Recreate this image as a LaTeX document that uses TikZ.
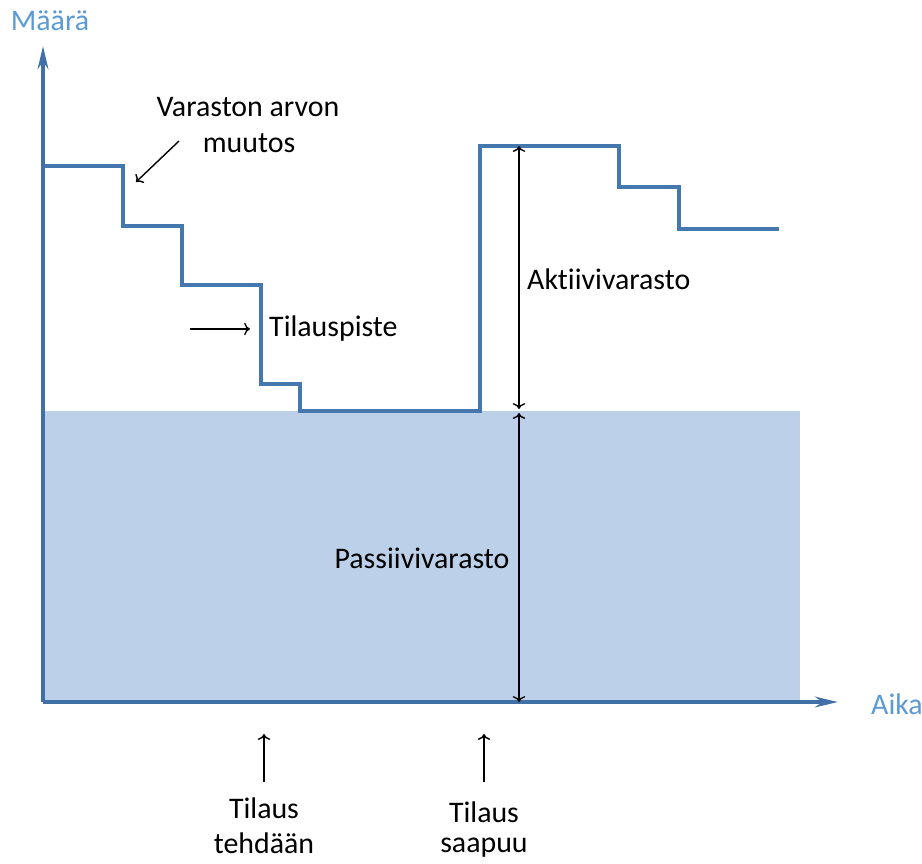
\documentclass[tikz,border=0pt]{standalone}
\usepackage{fontspec}
\setmainfont[Ligatures=NoCommon]{Carlito}
\usetikzlibrary{arrows.meta}
\definecolor{axisblue}{RGB}{64,112,166}
\definecolor{stepblue}{RGB}{70,120,176}
\definecolor{labelblue}{RGB}{91,155,213}
\definecolor{passive}{RGB}{188,208,233}

\begin{document}
\begin{tikzpicture}[x=0.02cm,y=-0.02cm,font=\fontsize{17}{20}\selectfont,
  axis line/.style={draw=axisblue,line width=2.7pt,-{Stealth[length=13pt,width=6pt]}},
  level line/.style={draw=stepblue,line width=1.9pt},
  pointer/.style={->,black,line width=0.8pt}]
\useasboundingbox (0,0) rectangle (922,863);

\coordinate (origin) at (43,702);
\coordinate (ytop) at (43,46);
\coordinate (xend) at (838,702);

% passive stock
\fill[passive] (43,411) rectangle (800,702);

% stock level
\draw[level line] (43,166) -- (123,166) -- (123,226) -- (182,226) -- (182,285)
  -- (261,285) -- (261,384) -- (300,384) -- (300,411) -- (480,411) -- (480,146)
  -- (619,146) -- (619,187) -- (679,187) -- (679,229) -- (779,229);

% axes
\draw[axis line] (origin) -- (ytop);
\draw[axis line] (origin) -- (xend);
\node[text=labelblue] (maara) at (50,21) {Määrä};
\node[text=labelblue,anchor=west] (aika) at (865,704) {Aika};

% active and passive stock
\coordinate (aktop) at (519,146);
\coordinate (akbot) at (519,409);
\coordinate (patop) at (519,413);
\coordinate (pabot) at (519,702);
\draw[pointer,<->] (aktop) -- (akbot);
\draw[pointer,<->] (patop) -- (pabot);
\node[anchor=west] (aktiivi) at (521,279) {Aktiivivarasto};
\node (passiivi) at (422,558) {Passiivivarasto};

% value change
\node (varaston) at (248,107) {Varaston arvon};
\node (muutos) at (249,143) {muutos};
\coordinate (vstart) at (179,141);
\coordinate (vend) at (136,182);
\draw[pointer] (vstart) -- (vend);

% reorder point
\coordinate (tpstart) at (190,329);
\coordinate (tpend) at (250,329);
\draw[pointer] (tpstart) -- (tpend);
\node[anchor=west] (tilauspiste) at (263,329) {Tilauspiste};

% order events
\coordinate (tehstart) at (264,782);
\coordinate (tehend) at (264,734);
\draw[pointer] (tehstart) -- (tehend);
\node (tilaus1) at (264,808) {Tilaus};
\node (tehdaan) at (264,843) {tehdään};

\coordinate (saastart) at (484,782);
\coordinate (saaend) at (484,734);
\draw[pointer] (saastart) -- (saaend);
\node (tilaus2) at (484,812) {Tilaus};
\node (saapuu) at (484,848) {saapuu};

\end{tikzpicture}
\end{document}
